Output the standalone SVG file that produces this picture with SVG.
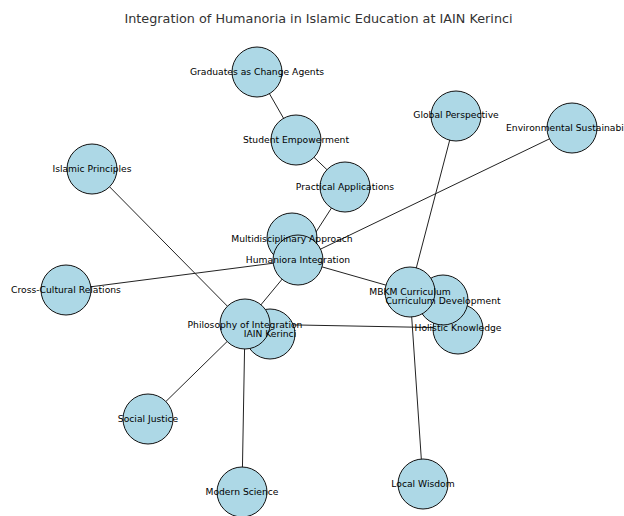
<svg xmlns="http://www.w3.org/2000/svg" width="624" height="516" viewBox="0 0 624 516">
<style>
.e{stroke:#222;stroke-width:1;fill:none}
.n circle{fill:#ADD8E6;stroke:#111;stroke-width:1}
.n text{font-family:"DejaVu Sans",sans-serif;font-size:9.2px;fill:#000;text-anchor:middle;dominant-baseline:central}
.t{font-family:"DejaVu Sans",sans-serif;font-size:12.8px;fill:#333;text-anchor:middle}
</style>
<rect width="624" height="516" fill="#fff"/>
<text class="t" x="318.5" y="23">Integration of Humanoria in Islamic Education at IAIN Kerinci</text>
<g id="edges">
<line class="e" x1="257" y1="72" x2="296" y2="140"/>
<line class="e" x1="296" y1="140" x2="345" y2="187"/>
<line class="e" x1="345" y1="187" x2="298" y2="260"/>
<line class="e" x1="572" y1="128" x2="298" y2="260"/>
<line class="e" x1="66" y1="290" x2="298" y2="260"/>
<line class="e" x1="298" y1="260" x2="410" y2="292"/>
<line class="e" x1="298" y1="260" x2="245" y2="324"/>
<line class="e" x1="92" y1="169" x2="245" y2="324"/>
<line class="e" x1="245" y1="324" x2="148" y2="419"/>
<line class="e" x1="245" y1="324" x2="242" y2="492"/>
<line class="e" x1="245" y1="324" x2="458" y2="328"/>
<line class="e" x1="456" y1="116" x2="410" y2="292"/>
<line class="e" x1="410" y1="292" x2="423" y2="484"/>
</g>
<g id="n-graduates" class="n"><circle cx="257" cy="72" r="25"/></g>
<g id="n-student" class="n"><circle cx="296" cy="140" r="25"/></g>
<g id="n-practical" class="n"><circle cx="345" cy="187" r="25"/></g>
<g id="n-multi" class="n"><circle cx="292" cy="238" r="25"/></g>
<g id="n-humaniora" class="n"><circle cx="298" cy="260" r="25"/></g>
<g id="n-islamic" class="n"><circle cx="92" cy="169" r="25"/></g>
<g id="n-cross" class="n"><circle cx="66" cy="290" r="25"/></g>
<g id="n-global" class="n"><circle cx="456" cy="116" r="25"/></g>
<g id="n-env" class="n"><circle cx="572" cy="128" r="25"/></g>
<g id="n-holistic" class="n"><circle cx="458" cy="329" r="25"/></g>
<g id="n-currdev" class="n"><circle cx="443" cy="300" r="25"/></g>
<g id="n-mbkm" class="n"><circle cx="410" cy="292" r="25"/></g>
<g id="n-iain" class="n"><circle cx="270" cy="334" r="25"/></g>
<g id="n-philosophy" class="n"><circle cx="245" cy="324" r="25"/></g>
<g id="n-social" class="n"><circle cx="148" cy="419" r="25"/></g>
<g id="n-modern" class="n"><circle cx="242" cy="492" r="25"/></g>
<g id="n-local" class="n"><circle cx="423" cy="484" r="25"/></g>
<g id="labels" class="n">
<text x="257" y="71">Graduates as Change Agents</text>
<text x="296" y="139">Student Empowerment</text>
<text x="345" y="186">Practical Applications</text>
<text x="292" y="238">Multidisciplinary Approach</text>
<text x="298" y="259">Humaniora Integration</text>
<text x="92" y="168">Islamic Principles</text>
<text x="66" y="289">Cross-Cultural Relations</text>
<text x="456" y="114">Global Perspective</text>
<text x="572" y="127">Environmental Sustainability</text>
<text x="458" y="327">Holistic Knowledge</text>
<text x="443" y="300">Curriculum Development</text>
<text x="410" y="291">MBKM Curriculum</text>
<text x="270" y="333">IAIN Kerinci</text>
<text x="245" y="324">Philosophy of Integration</text>
<text x="148" y="418">Social Justice</text>
<text x="242" y="491">Modern Science</text>
<text x="423" y="483">Local Wisdom</text>
</g>
</svg>
